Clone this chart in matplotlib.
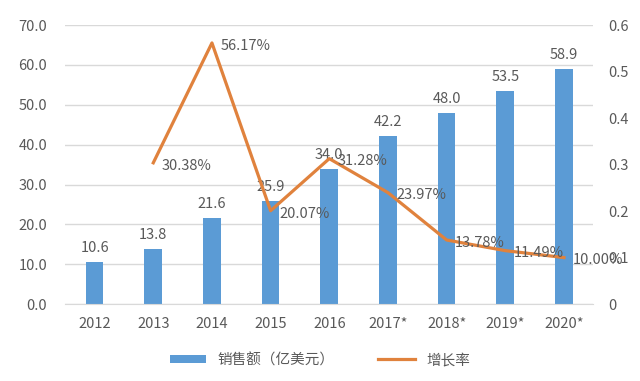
import numpy as np
import matplotlib.pyplot as plt

plt.rcParams['font.family'] = ['Noto Sans CJK SC', 'DejaVu Sans']
plt.rcParams['font.size'] = 10.5

years = ['2012', '2013', '2014', '2015', '2016', '2017*', '2018*', '2019*', '2020*']
sales = [10.6, 13.8, 21.6, 25.9, 34.0, 42.2, 48.0, 53.5, 58.9]
growth_years = ['2013', '2014', '2015', '2016', '2017*', '2018*', '2019*', '2020*']
growth = [0.3038, 0.5617, 0.2007, 0.3128, 0.2397, 0.1378, 0.1149, 0.1000]

grey = '#595959'
blue = '#5B9BD5'
orange = '#E0823D'

fig = plt.figure(figsize=(6.4, 3.81), dpi=100)
ax = fig.add_axes([0.102, 0.202, 0.825, 0.732])
ax2 = ax.twinx()

x = np.arange(len(years))
ax.bar(x, sales, width=0.3, color=blue, label='销售额（亿美元）', zorder=2)
for xi, v in zip(x, sales):
    ax.annotate(f'{v:.1f}', (xi, v), xytext=(0, 5), textcoords='offset points',
                ha='center', va='bottom', color=grey)

gx = [years.index(y) for y in growth_years]
ax2.plot(gx, growth, color=orange, lw=2.3, label='增长率', zorder=3)
for xi, v in zip(gx, growth):
    ax2.annotate(f'{v * 100:.2f}%', (xi, v), xytext=(6, -2), textcoords='offset points',
                 ha='left', va='center', color=grey)

ax.set_xlim(-0.5, len(years) - 0.5)
ax.set_ylim(0, 70)
ax.set_yticks(np.arange(0, 71, 10))
ax.set_yticklabels([f'{v:.1f}' for v in np.arange(0, 71, 10)])
ax2.set_ylim(0, 0.6)
ax2.set_yticks([0, 0.1, 0.2, 0.3, 0.4, 0.5, 0.6])
ax2.set_yticklabels(['0', '0.1', '0.2', '0.3', '0.4', '0.5', '0.6'])
ax.set_xticks(x)
ax.set_xticklabels(years)

ax.grid(axis='y', color='#D9D9D9', lw=1, zorder=0)
ax.set_axisbelow(True)
for a in (ax, ax2):
    for s in a.spines.values():
        s.set_visible(False)
    a.tick_params(length=0, colors=grey, labelsize=10.5)
ax.spines['bottom'].set_visible(True)
ax.spines['bottom'].set_color('#D9D9D9')
ax.tick_params(axis='y', pad=13)
ax.tick_params(axis='x', pad=9)
ax2.tick_params(axis='y', pad=11)

h1, l1 = ax.get_legend_handles_labels()
h2, l2 = ax2.get_legend_handles_labels()
leg = fig.legend(h1 + h2, l1 + l2, loc='center', bbox_to_anchor=(0.5, 0.055), ncol=2,
                 frameon=False, handlelength=2.5, handleheight=0.5, columnspacing=3)
for t in leg.get_texts():
    t.set_color(grey)

fig.savefig('out.png', dpi=100)
